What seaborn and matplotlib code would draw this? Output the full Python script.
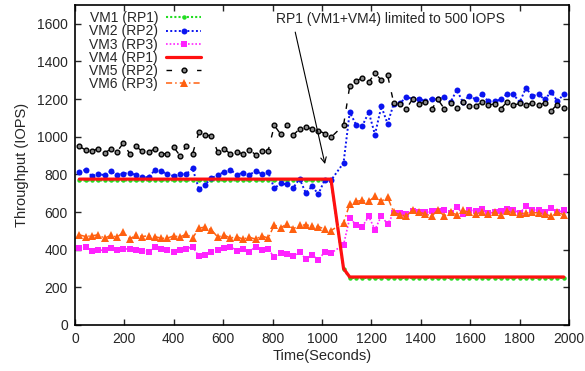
import numpy as np
import pandas as pd
import matplotlib
matplotlib.use("Agg")
import matplotlib.pyplot as plt
import seaborn as sns

# ---------------- data ----------------
time = [18, 43, 69, 94, 120, 145, 171, 196, 222, 247, 272, 298, 323, 349, 374, 400,
        425, 451, 476, 502, 527, 552, 578, 603, 629, 654, 680, 705, 731, 756, 782,
        807, 832, 858, 883, 909, 934, 960, 985, 1011, 1036,
        1087, 1112, 1138, 1163, 1189, 1214, 1240, 1265, 1290, 1316, 1341, 1367,
        1392, 1418, 1443, 1469, 1494, 1520, 1545, 1570, 1596, 1621, 1647, 1672,
        1698, 1723, 1749, 1774, 1800, 1825, 1850, 1876, 1901, 1927, 1952, 1978]

vm1 = [768, 768, 768, 768, 768, 768, 768, 768, 768, 768, 768, 768, 768, 768, 768, 768,
       768, 768, 768, 768, 768, 768, 768, 768, 768, 768, 768, 768, 768, 768, 768,
       768, 768, 768, 768, 768, 768, 768, 768, 768, 768,
       295, 250, 250, 250, 250, 250, 250, 250, 250, 250, 250, 250,
       250, 250, 250, 250, 250, 250, 250, 250, 250, 250, 250, 250,
       250, 250, 250, 250, 250, 250, 250, 250, 250, 250, 250, 250]

vm2 = [813, 825, 790, 804, 795, 816, 799, 804, 809, 797, 788, 784, 822, 816, 804, 790,
       800, 802, 832, 722, 745, 781, 795, 813, 825, 799, 808, 795, 820, 802, 811,
       726, 752, 747, 728, 777, 702, 737, 695, 772, 768,
       861, 1131, 1063, 1058, 1130, 1012, 1161, 1070, 1175, 1180, 1210, 1203,
       1203, 1189, 1203, 1198, 1210, 1184, 1248, 1184, 1219, 1198, 1225, 1189,
       1189, 1198, 1228, 1225, 1184, 1260, 1216, 1225, 1198, 1239, 1189, 1225]

vm3 = [408, 412, 394, 399, 396, 408, 399, 403, 405, 399, 394, 390, 412, 406, 399, 390,
       399, 403, 417, 364, 373, 387, 396, 408, 417, 394, 403, 390, 414, 399, 403,
       360, 385, 378, 364, 390, 350, 373, 344, 390, 382,
       426, 568, 532, 523, 577, 506, 580, 536, 595, 595, 591, 603,
       598, 598, 603, 603, 609, 595, 627, 591, 612, 603, 616, 595,
       598, 603, 615, 612, 595, 630, 612, 609, 598, 621, 598, 609]

vm4 = [775, 775, 775, 775, 775, 775, 775, 775, 775, 775, 775, 775, 775, 775, 775, 775,
       775, 775, 775, 775, 775, 775, 775, 775, 775, 775, 775, 775, 775, 775, 775,
       775, 775, 775, 775, 775, 775, 775, 775, 775, 775,
       300, 255, 255, 255, 255, 255, 255, 255, 255, 255, 255, 255,
       255, 255, 255, 255, 255, 255, 255, 255, 255, 255, 255, 255,
       255, 255, 255, 255, 255, 255, 255, 255, 255, 255, 255, 255]

vm5 = [949, 930, 923, 937, 914, 934, 921, 967, 909, 949, 923, 920, 935, 911, 909, 945,
       900, 949, 909, 1024, 1012, 1003, 920, 937, 909, 920, 909, 932, 905, 923, 927,
       1060, 1015, 1061, 1008, 1042, 1051, 1042, 1033, 1017, 997,
       1061, 1269, 1296, 1313, 1290, 1337, 1301, 1328, 1180, 1175, 1148, 1202,
       1175, 1184, 1145, 1198, 1150, 1180, 1154, 1184, 1166, 1163, 1184, 1168,
       1175, 1148, 1186, 1168, 1177, 1168, 1180, 1168, 1180, 1139, 1171, 1154]

vm6 = [479, 470, 474, 479, 461, 476, 467, 492, 456, 479, 470, 474, 470, 461, 461, 474,
       467, 483, 461, 515, 520, 506, 467, 479, 461, 470, 456, 467, 456, 474, 461,
       532, 515, 538, 511, 529, 532, 527, 523, 509, 502,
       541, 644, 657, 662, 657, 683, 657, 680, 598, 586, 580, 609,
       598, 591, 577, 612, 580, 598, 586, 609, 598, 591, 598, 591,
       598, 586, 603, 598, 591, 595, 598, 595, 591, 577, 598, 586]

labels = ["VM1 (RP1)", "VM2 (RP2)", "VM3 (RP3)", "VM4 (RP1)", "VM5 (RP2)", "VM6 (RP3)"]
x_ticks = [0, 200, 400, 600, 800, 1000, 1200, 1400, 1600, 1800, 2000]
y_ticks = [0, 200, 400, 600, 800, 1000, 1200, 1400, 1600]
annotation = "RP1 (VM1+VM4) limited to 500 IOPS"

# ---------------- style ----------------
sns.set_style("ticks")
plt.rcParams["font.family"] = ["Liberation Sans", "DejaVu Sans"]

fig = plt.figure(figsize=(5.85, 3.71), dpi=100)
ax = fig.add_axes([0.128, 0.124, 0.845, 0.8625])

styles = [
    dict(color="#22dd22", linestyle=(0, (1, 1)), linewidth=1.5, marker="o",
         markersize=3.2, markeredgewidth=0),
    dict(color="#0a14f0", linestyle=(0, (1, 1.2)), linewidth=1.4, marker="o",
         markersize=4.3, markeredgewidth=0),
    dict(color="#ff22ff", linestyle=(0, (1, 1.2)), linewidth=1.2, marker="s",
         markersize=4.6, markeredgewidth=0),
    dict(color="#ff1010", linestyle="-", linewidth=2.3, marker=None),
    dict(color="black", linestyle=(0, (4, 7)), linewidth=1.0, marker="o",
         markersize=3.4, markerfacecolor="#8a8a8a", markeredgecolor="black",
         markeredgewidth=1.0),
    dict(color="#ff6010", linestyle=(0, (4, 2, 1, 2)), linewidth=1.1, marker="^",
         markersize=5.3, markeredgewidth=0),
]

series = [vm1, vm2, vm3, vm4, vm5, vm6]
for vals, lab, st in zip(series, labels, styles):
    df = pd.DataFrame({"time": time, "iops": vals})
    sns.lineplot(data=df, x="time", y="iops", ax=ax, label=lab, sort=False,
                 estimator=None, **st)

ax.set_xlim(0, 2000)
ax.set_ylim(0, 1700)
ax.set_xticks(x_ticks)
ax.set_yticks(y_ticks)
ax.tick_params(direction="in", length=4, width=1.0, top=True, right=True,
               labelsize=10, pad=5)
for sp in ax.spines.values():
    sp.set_visible(True)
    sp.set_linewidth(1.2)
    sp.set_color("black")

ax.set_xlabel("Time(Seconds)", fontsize=10.5, labelpad=2)
ax.set_ylabel("Throughput (IOPS)", fontsize=10.5, labelpad=6)

ax.annotate(annotation, xy=(1012, 855), xytext=(1275, 1625),
            ha="center", va="center", fontsize=10,
            arrowprops=dict(arrowstyle="->", color="black", lw=0.8,
                            relpos=(0.08, 0.0), shrinkA=2, shrinkB=0))

leg = ax.legend(loc="upper left", bbox_to_anchor=(0.016, 1.0), frameon=False,
                markerfirst=False, handlelength=2.5, fontsize=10,
                labelspacing=-0.06, borderaxespad=0.15, borderpad=0.3,
                handletextpad=0.6)

fig.savefig("out.png", dpi=100)
